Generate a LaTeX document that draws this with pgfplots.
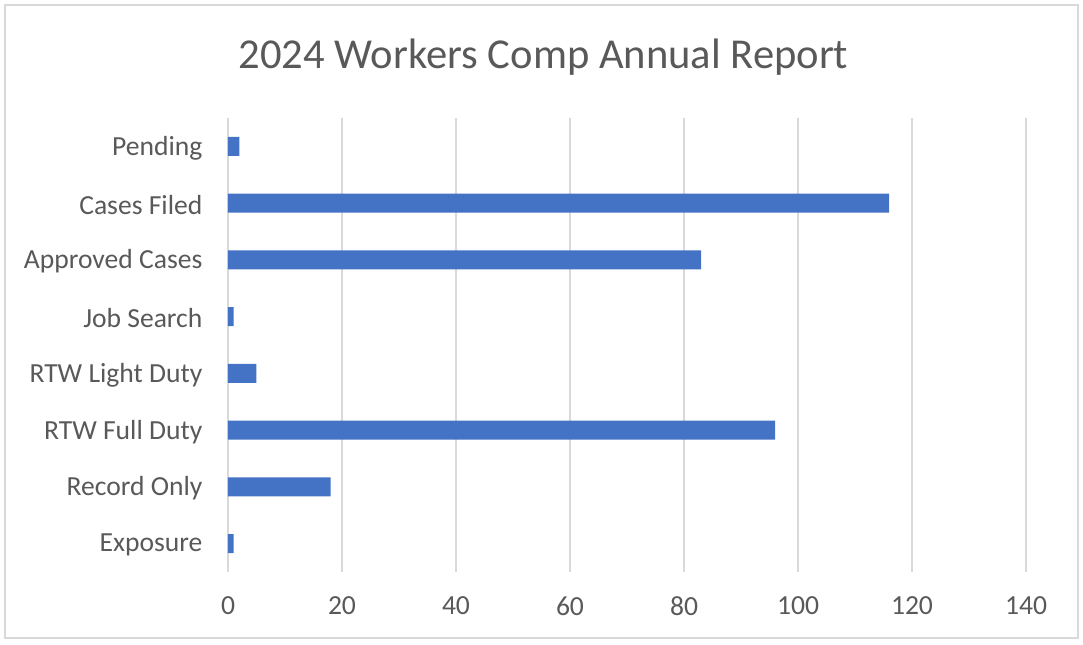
\documentclass[border=0pt]{standalone}
\usepackage{pgfplots}
\pgfplotsset{compat=1.18}
\usepackage{fontspec}
\setmainfont{Carlito}
\definecolor{barblue}{RGB}{68,114,196}
\definecolor{txtgray}{RGB}{89,89,89}
\definecolor{gridgray}{RGB}{217,217,217}
\begin{document}
\begin{tikzpicture}
\useasboundingbox (-114pt,-36pt) rectangle (427.5pt,286pt);
\draw[gridgray, line width=0.8pt] (-111.5pt,-33pt) rectangle (425pt,283.5pt);
\node[text=txtgray, font=\fontsize{21.3}{24}\selectfont] at (157.75pt,257.5pt) {2024 Workers Comp Annual Report};
\begin{axis}[
  at={(0pt,0pt)}, anchor=south west,
  scale only axis,
  width=399pt, height=227pt,
  xbar, bar width=9.5pt,
  xmin=0, xmax=140,
  ymin=-0.5, ymax=7.5,
  xtick={0,20,...,140},
  ytick={0,...,7},
  yticklabels={Exposure,Record Only,RTW Full Duty,RTW Light Duty,Job Search,Approved Cases,Cases Filed,Pending},
  xmajorgrids, major grid style={gridgray, line width=0.8pt},
  axis line style={draw=none},
  tick style={draw=none},
  ticklabel style={text=txtgray, font=\fontsize{13.8}{16}\selectfont},
  /pgf/number format/assume math mode=true,
  yticklabel style={xshift=-5pt, yshift=-0.8pt},
  xticklabel style={yshift=-9pt},
]
\addplot[fill=barblue, draw=none] coordinates {
(1,0) (18,1) (96,2) (5,3) (1,4) (83,5) (116,6) (2,7)
};
\end{axis}
\end{tikzpicture}
\end{document}
